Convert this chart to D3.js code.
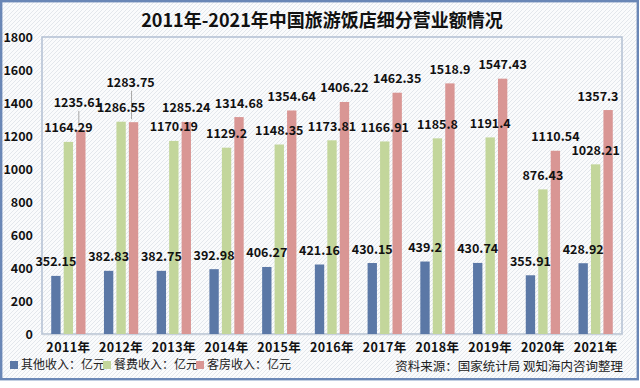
<!DOCTYPE html>
<html><head><meta charset="utf-8">
<script src="https://cdn.jsdelivr.net/npm/d3@7/dist/d3.min.js"></script>
<style>
html,body{margin:0;padding:0;background:#fff;}
svg{display:block;}
text{font-family:"Noto Sans CJK SC","Noto Sans",sans-serif;}
</style></head>
<body>
<svg id="chart" width="640" height="388"></svg>
<script>
const years = ["2011年","2012年","2013年","2014年","2015年","2016年","2017年","2018年","2019年","2020年","2021年"];
const seriesNames = ["其他收入：亿元","餐费收入：亿元","客房收入：亿元"];
const otherIncome = [352.15,382.83,382.75,392.98,406.27,421.16,430.15,439.2,430.74,355.91,428.92];
const cateringIncome = [1164.29,1286.55,1170.19,1129.2,1148.35,1173.81,1166.91,1185.8,1191.4,876.43,1028.21];
const roomIncome = [1235.61,1283.75,1285.24,1314.68,1354.64,1406.22,1462.35,1518.9,1547.43,1110.54,1357.3];
const yTicks = [0,200,400,600,800,1000,1200,1400,1600,1800];
const colors = ["#5b78a6","#c3d69b","#d99694"];
const title = "2011年-2021年中国旅游饭店细分营业额情况";
const source = "资料来源：国家统计局 观知海内咨询整理";

const svg = d3.select("#chart");
const defs = svg.append("defs");
const pat = defs.append("pattern").attr("id","hatch").attr("patternUnits","userSpaceOnUse")
  .attr("width",4).attr("height",4);
pat.append("rect").attr("width",4).attr("height",4).attr("fill","#fafbfc");
pat.append("path").attr("d","M-1,1 l2,-2 M0,4 l4,-4 M3,5 l2,-2").attr("stroke","#e3e7ec").attr("stroke-width",1);

// outer background and frame
svg.append("rect").attr("x",1.2).attr("y",1.2).attr("width",636.6).attr("height",378)
  .attr("fill","url(#hatch)").attr("stroke","#6a87b6").attr("stroke-width",2.4);

const m = {left:42, right:622, top:37, bottom:334};
const x = d3.scaleBand().domain(years).range([m.left,m.right]).paddingInner(0.35).paddingOuter(0.175);
const xs = d3.scaleBand().domain(seriesNames).range([0,x.bandwidth()]).paddingInner(0.25);
const y = d3.scaleLinear().domain([0,1800]).range([m.bottom,m.top]);

// plot frame
svg.append("rect").attr("x",m.left).attr("y",m.top).attr("width",m.right-m.left).attr("height",m.bottom-m.top)
  .attr("fill","none").attr("stroke","#b3c0d2").attr("stroke-width",1.5);

// y axis
const yAxis = svg.append("g").attr("transform",`translate(${m.left-9},0)`)
  .call(d3.axisLeft(y).tickValues(yTicks).tickFormat(d3.format("d")).tickSize(0).tickPadding(0));
yAxis.select(".domain").remove();
yAxis.selectAll("text").attr("font-size",12.5).attr("font-weight","bold").attr("fill","#111").attr("dy","0.35em");

// x axis
const xAxis = svg.append("g").attr("transform",`translate(0,${m.bottom})`)
  .call(d3.axisBottom(x).tickSize(0).tickPadding(9));
xAxis.select(".domain").attr("stroke","#c9d1dc").attr("stroke-width",1.5);
xAxis.selectAll("text").attr("font-size",12.5).attr("font-weight","bold").attr("fill","#111").attr("letter-spacing","0.4px");

const data = years.map((yr,i)=>({year:yr, vals:[otherIncome[i],cateringIncome[i],roomIncome[i]]}));

const groups = svg.append("g").selectAll("g").data(data).join("g")
  .attr("transform",d=>`translate(${x(d.year)},0)`);
groups.selectAll("rect").data(d=>d.vals.map((v,k)=>({k,v}))).join("rect")
  .attr("x",d=>xs(seriesNames[d.k])).attr("width",xs.bandwidth())
  .attr("y",d=>y(d.v)).attr("height",d=>y(0)-y(d.v))
  .attr("fill",d=>colors[d.k]);

// labels
const lblG = svg.append("g");
const fs = 12.5;
data.forEach((d,i)=>{
  const cx = d.vals.map((v,k)=>x(d.year)+xs(seriesNames[k])+xs.bandwidth()/2);
  const ly = d.vals.map(v=>y(v)-14);
  let lx = cx.map(v=>Math.min(v, m.right-24));
  let moved = false;
  if (Math.abs(ly[2]-ly[1]) < 16) { ly[2] = ly[1]-25; lx[2] = cx[2]-3; moved = true; }
  if (moved) {
    lblG.append("line").attr("x1",cx[2]-2).attr("x2",cx[2]-2)
      .attr("y1",ly[2]+8).attr("y2",y(d.vals[2])-3)
      .attr("stroke","#a6a6a6").attr("stroke-width",1);
  }
  d.vals.forEach((v,k)=>{
    lblG.append("text").attr("x",lx[k]).attr("y",ly[k]).attr("dy","0.36em")
      .attr("text-anchor","middle").attr("font-size",fs).attr("font-weight","bold")
      .attr("fill","#111").text(v);
  });
});

// title
svg.append("text").attr("x",322).attr("y",21).attr("dy","0.36em").attr("text-anchor","middle")
  .attr("font-size",18).attr("font-weight","bold").attr("fill","#111").text(title);

// legend
const legX = [10,103,196];
const leg = svg.append("g").selectAll("g").data(seriesNames).join("g")
  .attr("transform",(d,i)=>`translate(${legX[i]},365)`);
leg.append("rect").attr("x",0).attr("y",-4).attr("width",8).attr("height",8).attr("fill",(d,i)=>colors[i]);
leg.append("text").attr("x",11).attr("y",0).attr("dy","0.36em").attr("font-size",12).attr("fill","#222").text(d=>d);

// source
svg.append("text").attr("x",623).attr("y",366).attr("dy","0.36em").attr("text-anchor","end")
  .attr("font-size",12.5).attr("fill","#222").text(source);
</script>
</body></html>
